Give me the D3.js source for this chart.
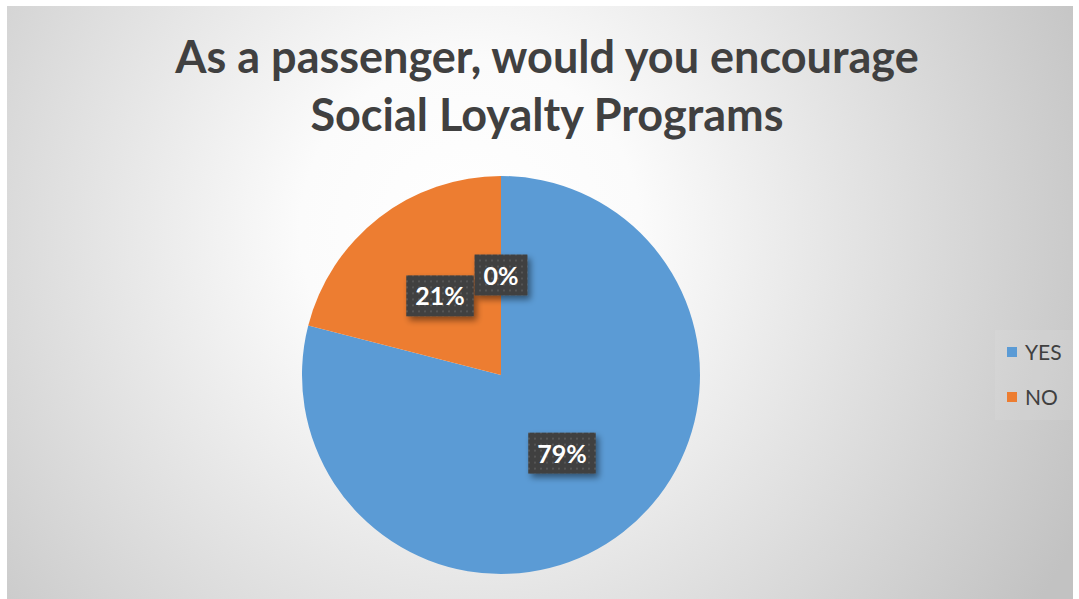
<!DOCTYPE html>
<html>
<head>
<meta charset="utf-8">
<script src="https://cdn.jsdelivr.net/npm/d3@7"></script>
<style>
  html, body { margin: 0; padding: 0; background: #ffffff; }
  svg { display: block; }
</style>
</head>
<body>
<script>
// Survey answers
const categories = ["YES", "NO", ""];
const values = [79, 21, 0];
const labels = ["79%", "21%", "0%"];
const legendItems = ["YES", "NO"];
const titleLines = ["As a passenger, would you encourage", "Social Loyalty Programs"];

const W = 1079, H = 599;
const svg = d3.select("body").append("svg").attr("width", W).attr("height", H);
const defs = svg.append("defs");

// soft radial backdrop
const grad = defs.append("radialGradient").attr("id", "bg")
  .attr("gradientUnits", "userSpaceOnUse")
  .attr("cx", 470).attr("cy", 230).attr("r", 680);
grad.append("stop").attr("offset", "0%").attr("stop-color", "#ffffff");
grad.append("stop").attr("offset", "25%").attr("stop-color", "#fbfbfb");
grad.append("stop").attr("offset", "100%").attr("stop-color", "#c2c2c2");

// dotted fill for the data label boxes
const pat = defs.append("pattern").attr("id", "dots")
  .attr("patternUnits", "userSpaceOnUse").attr("width", 6).attr("height", 6);
pat.append("rect").attr("width", 6).attr("height", 6).attr("fill", "#3f3f3f");
pat.append("rect").attr("x", 2).attr("y", 2).attr("width", 2).attr("height", 2).attr("fill", "#555555");

const shadow = defs.append("filter").attr("id", "shadow")
  .attr("x", "-30%").attr("y", "-30%").attr("width", "170%").attr("height", "170%");
shadow.append("feDropShadow").attr("dx", 3).attr("dy", 4).attr("stdDeviation", 3)
  .attr("flood-color", "#000").attr("flood-opacity", 0.45);

// chart area
svg.append("rect").attr("x", 7).attr("y", 6).attr("width", 1066).attr("height", 593)
  .attr("fill", "url(#bg)");

// title
svg.append("g").selectAll("text").data(titleLines).join("text")
  .attr("x", 547).attr("y", (d, i) => 73 + i * 58)
  .attr("text-anchor", "middle")
  .attr("font-family", "Lato, 'Open Sans', sans-serif")
  .attr("font-weight", 700).attr("font-size", 45)
  .attr("fill", "#404040")
  .text(d => d);

// pie
const cx = 501, cy = 375, R = 199;
const color = d3.scaleOrdinal().domain(categories).range(["#5B9BD5", "#ED7D31", "#A5A5A5"]);
const pie = d3.pie().sort(null).value(d => d.value);
const data = categories.map((c, i) => ({ cat: c, value: values[i], label: labels[i] }));
const arcs = pie(data);
const arc = d3.arc().innerRadius(0).outerRadius(R);

const g = svg.append("g").attr("transform", `translate(${cx},${cy})`);
g.selectAll("path").data(arcs).join("path")
  .attr("d", arc)
  .attr("fill", d => color(d.data.cat));

// data labels at arc centroids
const lab = g.selectAll("g.lab").data(arcs).join("g").attr("class", "lab")
  .attr("transform", d => `translate(${arc.centroid(d)})`);
lab.each(function (d) {
  const sel = d3.select(this);
  const t = sel.append("text")
    .attr("text-anchor", "middle").attr("dy", "0.36em")
    .attr("font-family", "Lato, 'Open Sans', sans-serif")
    .attr("font-weight", 700).attr("font-size", 25)
    .attr("fill", "#ffffff").text(d.data.label);
  const w = t.node().getComputedTextLength();
  sel.insert("rect", "text")
    .attr("x", -w / 2 - 9).attr("y", -21).attr("width", w + 18).attr("height", 41)
    .attr("fill", "url(#dots)").attr("filter", "url(#shadow)");
});

// legend
const leg = svg.append("g");
leg.append("rect").attr("x", 995).attr("y", 330).attr("width", 78).attr("height", 90)
  .attr("fill", "#ffffff").attr("opacity", 0.08);
const li = leg.selectAll("g").data(legendItems).join("g")
  .attr("transform", (d, i) => `translate(1007, ${352 + i * 45})`);
li.append("rect").attr("x", 0).attr("y", -5).attr("width", 10).attr("height", 10)
  .attr("fill", d => color(d));
li.append("text").attr("x", 18).attr("dy", "0.36em")
  .attr("font-family", "Lato, 'Open Sans', sans-serif")
  .attr("font-size", 21).attr("fill", "#404040")
  .text(d => d);
</script>
</body>
</html>
